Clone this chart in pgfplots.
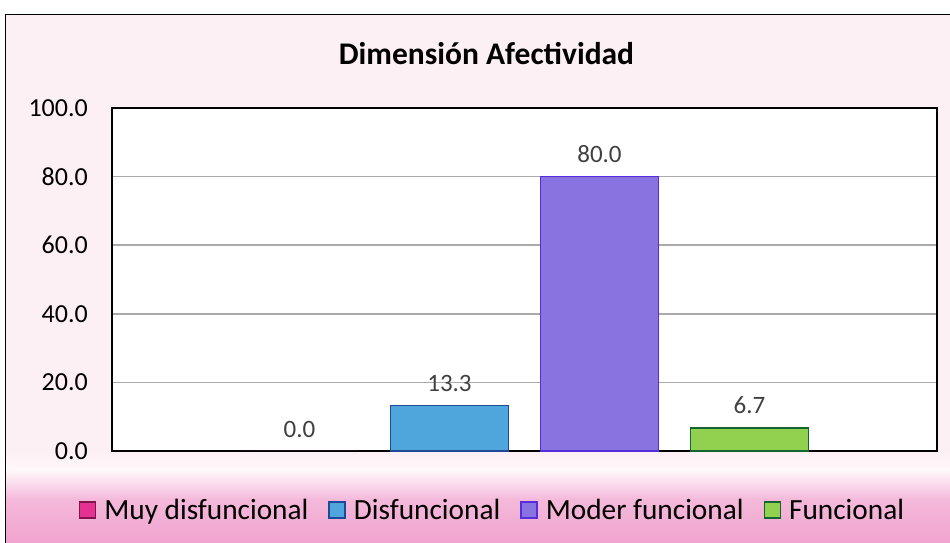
\documentclass[border=0pt]{standalone}
\usepackage{pgfplots}
\pgfplotsset{compat=1.18}
\usepackage{fontspec}
\setmainfont{Carlito}
\definecolor{bgpink}{RGB}{252,240,245}
\definecolor{bgwhite}{RGB}{255,248,251}
\definecolor{pinkmid}{RGB}{244,184,218}
\definecolor{pinkbot}{RGB}{240,164,207}
\definecolor{mpink}{RGB}{227,50,145}
\definecolor{mpinkd}{RGB}{130,20,75}
\definecolor{mblue}{RGB}{79,166,220}
\definecolor{mblued}{RGB}{31,73,150}
\definecolor{mpurple}{RGB}{137,115,224}
\definecolor{mpurpled}{RGB}{84,46,220}
\definecolor{mgreen}{RGB}{146,208,80}
\definecolor{mgreend}{RGB}{20,100,50}
\definecolor{labelgray}{RGB}{64,64,64}
\definecolor{gridgray}{RGB}{170,170,170}
\begin{document}
\begin{tikzpicture}[x=1pt,y=1pt]
\useasboundingbox (0,0) rectangle (950,543);
\clip (0,0) rectangle (950,543);
\fill[white] (0,0) rectangle (950,543);
\fill[bgpink] (5,0) rectangle (960,528);
\shade[top color=bgpink, bottom color=bgwhite] (5,73) rectangle (960,91);
\shade[top color=bgwhite, bottom color=pinkmid] (5,43) rectangle (960,73);
\shade[top color=pinkmid, bottom color=pinkbot] (5,0) rectangle (960,43);
\draw[black, line width=1pt] (5,-5) -- (5,528) -- (960,528);
\node[font=\fontsize{31.5}{36}\selectfont\bfseries, anchor=base, inner sep=0pt] at (486.5,478) {Dimensión Afectividad};
\begin{axis}[
  at={(112pt,92pt)}, anchor=south west,
  scale only axis, width=825pt, height=343pt,
  xmin=-0.5, xmax=0.5, ymin=0, ymax=100,
  xtick=\empty, ytick={0,20,40,60,80,100},
  ymajorgrids,
  major grid style={line width=1.5pt, gridgray},
  axis line style={line width=1.6pt, black},
  tick style={draw=none},
  axis background/.style={fill=white},
  clip=false,
  ybar, bar width=0.143, bar shift=0pt,
  yticklabel style={font=\fontsize{26}{30}\selectfont, anchor=east, inner sep=0pt, xshift=-24pt,
    /pgf/number format/.cd, fixed, fixed zerofill, precision=1, assume math mode=true},
  nodes near coords={\pgfmathprintnumber[fixed,fixed zerofill,precision=1,assume math mode=true]{\pgfplotspointmeta}},
  nodes near coords style={font=\fontsize{25}{30}\selectfont, text=labelgray, anchor=south, yshift=10pt},
  legend columns=4,
  legend style={at={(0.4612,-0.172)}, anchor=center, draw=none, fill=none,
    font=\fontsize{29.3}{33}\selectfont, text=black,
    /tikz/every odd column/.append style={column sep=6pt},
    /tikz/every even column/.append style={column sep=18pt}},
]
\addplot[fill=mpink, draw=none,
  legend image code/.code={\draw[fill=mpink, draw=mpinkd, line width=1.5pt] (0pt,-8pt) rectangle (16pt,8pt);}]
  coordinates {(-0.2727,0.0)};
\addlegendentry{Muy disfuncional}
\addplot[fill=mblue, draw=mblued, line width=1.5pt,
  legend image code/.code={\draw[fill=mblue, draw=mblued, line width=1.5pt] (0pt,-8pt) rectangle (16pt,8pt);}]
  coordinates {(-0.0909,13.3)};
\addlegendentry{Disfuncional}
\addplot[fill=mpurple, draw=mpurpled, line width=1.5pt,
  legend image code/.code={\draw[fill=mpurple, draw=mpurpled, line width=1.5pt] (0pt,-8pt) rectangle (16pt,8pt);}]
  coordinates {(0.0909,80.0)};
\addlegendentry{Moder funcional}
\addplot[fill=mgreen, draw=mgreend, line width=1.5pt,
  legend image code/.code={\draw[fill=mgreen, draw=mgreend, line width=1.5pt] (0pt,-8pt) rectangle (16pt,8pt);}]
  coordinates {(0.2727,6.7)};
\addlegendentry{Funcional}
\end{axis}
\end{tikzpicture}
\end{document}
